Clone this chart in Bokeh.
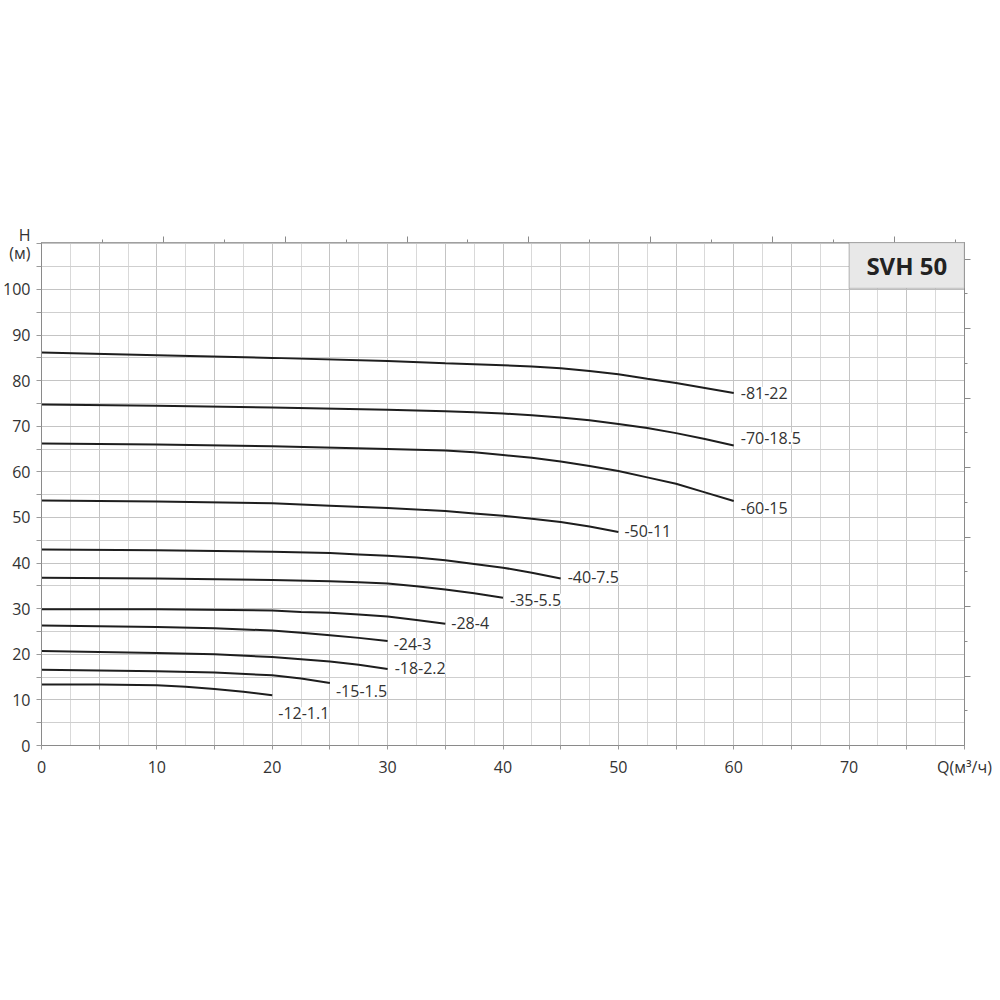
from bokeh.plotting import figure
from bokeh.models import (Range1d, FixedTicker, LinearAxis, Label, BoxAnnotation,
                          ColumnDataSource, CustomLabelingPolicy)
from bokeh.core.properties import value
from bokeh.embed import file_html
from bokeh.resources import INLINE

# ---------------- data ----------------
names = ["-81-22", "-70-18.5", "-60-15", "-50-11", "-40-7.5", "-35-5.5",
         "-28-4", "-24-3", "-18-2.2", "-15-1.5", "-12-1.1"]

q_81 = [0, 10, 20, 30, 35, 37.5, 40, 42.5, 45, 47.5, 50, 52.5, 55, 57.5, 60]
h_81 = [86.2, 85.6, 85.0, 84.3, 83.8, 83.6, 83.4, 83.1, 82.7, 82.1, 81.4, 80.4, 79.5, 78.4, 77.3]

q_70 = [0, 10, 20, 30, 35, 37.5, 40, 42.5, 45, 47.5, 50, 52.5, 55, 57.5, 60]
h_70 = [74.8, 74.5, 74.1, 73.6, 73.3, 73.1, 72.8, 72.4, 71.9, 71.3, 70.5, 69.6, 68.5, 67.2, 65.8]

q_60 = [0, 10, 20, 30, 35, 37.5, 40, 42.5, 45, 47.5, 50, 52.5, 55, 57.5, 60]
h_60 = [66.2, 66.0, 65.6, 65.0, 64.7, 64.3, 63.7, 63.1, 62.3, 61.3, 60.2, 58.8, 57.4, 55.5, 53.6]

q_50 = [0, 10, 20, 25, 30, 35, 37.5, 40, 42.5, 45, 47.5, 50]
h_50 = [53.7, 53.5, 53.1, 52.6, 52.1, 51.4, 50.9, 50.4, 49.7, 49.0, 48.0, 46.8]

q_40 = [0, 10, 20, 25, 27.5, 30, 32.5, 35, 37.5, 40, 42.5, 45]
h_40 = [43.0, 42.8, 42.5, 42.2, 41.9, 41.6, 41.2, 40.6, 39.8, 39.0, 37.9, 36.6]

q_35 = [0, 10, 20, 25, 27.5, 30, 32.5, 35, 37.5, 40]
h_35 = [36.8, 36.6, 36.3, 36.0, 35.8, 35.5, 34.9, 34.2, 33.4, 32.4]

q_28 = [0, 10, 20, 22.5, 25, 27.5, 30, 32.5, 35]
h_28 = [29.9, 29.9, 29.6, 29.3, 29.1, 28.7, 28.3, 27.5, 26.7]

q_24 = [0, 10, 15, 20, 22.5, 25, 27.5, 30]
h_24 = [26.3, 26.0, 25.7, 25.2, 24.7, 24.2, 23.6, 22.9]

q_18 = [0, 10, 15, 20, 22.5, 25, 27.5, 30]
h_18 = [20.7, 20.3, 20.0, 19.4, 18.9, 18.4, 17.7, 16.8]

q_15 = [0, 10, 15, 20, 22.5, 25]
h_15 = [16.6, 16.3, 16.0, 15.4, 14.7, 13.7]

q_12 = [0, 5, 10, 12.5, 15, 17.5, 20]
h_12 = [13.4, 13.4, 13.2, 12.9, 12.4, 11.8, 11.0]

curves_q = [q_81, q_70, q_60, q_50, q_40, q_35, q_28, q_24, q_18, q_15, q_12]
curves_h = [h_81, h_70, h_60, h_50, h_40, h_35, h_28, h_24, h_18, h_15, h_12]

x_ticks = [0, 10, 20, 30, 40, 50, 60, 70]
y_ticks = [0, 10, 20, 30, 40, 50, 60, 70, 80, 90, 100]
x_title = "Q(м³/ч)"
y_title = "H\n(м)"
title_text = "SVH 50"

# ---------------- styling ----------------
FONT = "Open Sans"
label_dx = [7, 7, 7, 6, 7, 7, 6, 6, 7, 6, 6]
label_dy = [0, -7, 7, -1, -2, 2, -1, 3, -1, 8, 18]

X_MAX = 80
Y_MAX = 110.3

p = figure(frame_width=923, frame_height=503,
           min_border_left=39, min_border_right=34,
           min_border_top=242, min_border_bottom=40,
           x_range=Range1d(0, X_MAX), y_range=Range1d(0, Y_MAX),
           output_backend="svg", toolbar_location=None,
           background_fill_color="white", border_fill_color="white")
p.outline_line_color = "#a0a0a0"

# grids
p.xgrid.ticker = FixedTicker(ticks=[i * 5 for i in range(17)],
                             minor_ticks=[2.5 + i * 5 for i in range(16)])
p.xgrid.grid_line_color = "#c4c4c4"
p.xgrid.minor_grid_line_color = "#d9d9d9"
p.ygrid.ticker = FixedTicker(ticks=[i * 10 for i in range(12)],
                             minor_ticks=[5 + i * 10 for i in range(11)])
p.ygrid.grid_line_color = "#c4c4c4"
p.ygrid.minor_grid_line_color = "#cfcfcf"

# left axis (with the H (м) title as the label of the top tick)
p.yaxis.ticker = FixedTicker(ticks=y_ticks + [110],
                             minor_ticks=[5 + i * 10 for i in range(11)])
p.yaxis.major_label_overrides = {110: y_title}
p.yaxis.major_tick_out = 5
p.yaxis.major_tick_in = 0
p.yaxis.minor_tick_out = 5
p.yaxis.minor_tick_in = 0
p.yaxis.major_label_standoff = 6
p.yaxis.axis_line_color = "#8a8a8a"
p.yaxis.major_tick_line_color = "#9a9a9a"
p.yaxis.minor_tick_line_color = "#9a9a9a"
p.yaxis.major_label_text_font = FONT
p.yaxis.major_label_text_font_size = "16px"
p.yaxis.major_label_text_line_height = 0.8
p.yaxis.major_label_text_color = "#333333"

# bottom axis (with the Q title as the label of the last tick)
p.xaxis.ticker = FixedTicker(ticks=x_ticks + [80],
                             minor_ticks=[5 + i * 10 for i in range(8)])
p.xaxis.major_label_overrides = {80: x_title}
p.xaxis.major_tick_out = 4
p.xaxis.major_tick_in = 0
p.xaxis.minor_tick_out = 4
p.xaxis.minor_tick_in = 0
p.xaxis.major_label_standoff = 6
p.xaxis.axis_line_color = "#8a8a8a"
p.xaxis.major_tick_line_color = "#9a9a9a"
p.xaxis.minor_tick_line_color = "#9a9a9a"
p.xaxis.major_label_text_font = FONT
p.xaxis.major_label_text_font_size = "16px"
p.xaxis.major_label_text_color = "#333333"

# top axis (secondary flow scale, ticks only)
top_step = 5.28
top_axis = LinearAxis(
    ticker=FixedTicker(ticks=[top_step * k for k in range(2, 16, 2)],
                       minor_ticks=[top_step * k for k in range(1, 16, 2)]),
    major_tick_out=6, major_tick_in=0, minor_tick_out=3, minor_tick_in=0,
    major_label_policy=CustomLabelingPolicy(code="for (const i of indices) indices.unset(i)"),
    axis_line_color="#a0a0a0",
    major_tick_line_color="#8a8a8a", minor_tick_line_color="#8a8a8a")
p.add_layout(top_axis, "above")

# right axis (feet, ticks only)
ft = 0.3048
right_axis = LinearAxis(
    ticker=FixedTicker(ticks=[50 * k * ft for k in range(1, 8)],
                       minor_ticks=[25 * k * ft for k in range(1, 15, 2)]),
    major_tick_out=6, major_tick_in=0, minor_tick_out=3, minor_tick_in=0,
    major_label_policy=CustomLabelingPolicy(code="for (const i of indices) indices.unset(i)"),
    axis_line_color="#8a8a8a",
    major_tick_line_color="#8a8a8a", minor_tick_line_color="#8a8a8a")
p.add_layout(right_axis, "right")

# curves
for qs, hs in zip(curves_q, curves_h):
    p.line(qs, hs, line_color="#1e1e1e", line_width=2)

# curve labels
src = ColumnDataSource(dict(
    x=[q[-1] for q in curves_q],
    y=[h[-1] for h in curves_h],
    t=names, dx=label_dx, dy=label_dy))
p.text(x="x", y="y", text="t", x_offset="dx", y_offset="dy", source=src,
       text_font=value(FONT), text_font_size="16px", text_color="#333333",
       text_align="left", text_baseline="middle",
       background_fill_color="white")

# title box
p.add_layout(BoxAnnotation(left=70, right=X_MAX, bottom=100.2, top=Y_MAX,
                           fill_color="#e8e8e8", fill_alpha=1.0,
                           line_color="#6a6a6a", line_width=1.5))
p.add_layout(Label(x=75, y=105.25, text=title_text, text_align="center",
                   text_baseline="middle", text_font=FONT,
                   text_font_size="24px", text_font_style="bold",
                   text_color="#222222"))

open("out.html", "w").write(file_html(p, INLINE))
